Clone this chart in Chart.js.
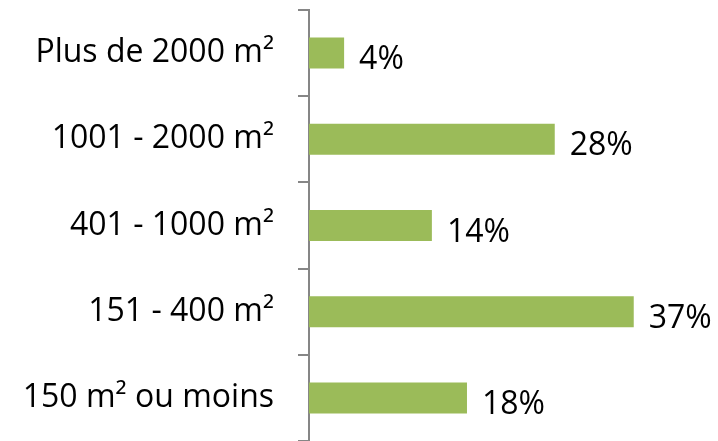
<!DOCTYPE html>
<html>
<head>
<meta charset="utf-8">
<script src="https://cdn.jsdelivr.net/npm/chart.js@4"></script>
<style>
  html, body { margin: 0; padding: 0; background: #fff; }
  #wrap { width: 718px; height: 441px; }
</style>
</head>
<body>
<div id="wrap"><canvas id="myChart"></canvas></div>
<script>
// data
var categories = ["Plus de 2000 m²", "1001 - 2000 m²", "401 - 1000 m²", "151 - 400 m²", "150 m² ou moins"]
var shares = [4, 28, 14, 37, 18]
var valueLabels = ["4%", "28%", "14%", "37%", "18%"]

var FONT = "Open Sans"
var FONT_SIZE = 32

// draws the % text to the right of each bar
var barLabels = {
    id: "barLabels",
    afterDatasetsDraw: function (chart) {
        var ctx = chart.ctx
        var meta = chart.getDatasetMeta(0)
        ctx.save()
        ctx.font = FONT_SIZE + "px " + FONT
        ctx.fillStyle = "#000"
        ctx.textBaseline = "alphabetic"
        ctx.textAlign = "left"
        meta.data.forEach(function (bar, i) {
            ctx.fillText(valueLabels[i], bar.x + 15, bar.y + 16)
        })
        ctx.restore()
    }
}

new Chart("myChart", {
    type: "bar",
    data: {
        labels: categories,
        datasets: [{
            data: shares,
            backgroundColor: "#9BBB59",
            categoryPercentage: 1,
            barPercentage: 0.36
        }]
    },
    plugins: [barLabels],
    options: {
        indexAxis: "y",
        responsive: true,
        maintainAspectRatio: false,
        animation: false,
        layout: { padding: { top: 10, bottom: 0, left: 0, right: 0 } },
        plugins: { legend: { display: false }, tooltip: { enabled: false } },
        scales: {
            x: {
                display: false,
                min: 0,
                max: 46.6
            },
            y: {
                offset: true,
                afterFit: function (scale) {
                    scale.width = 309
                    scale.paddingTop = 0
                    scale.paddingBottom = 0
                },
                border: { display: true, color: "#868686", width: 2 },
                grid: {
                    offset: true,
                    drawOnChartArea: false,
                    drawTicks: true,
                    tickLength: 11,
                    color: "#868686",
                    lineWidth: 2
                },
                ticks: {
                    padding: 24,
                    color: "#000",
                    font: { family: FONT, size: FONT_SIZE }
                }
            }
        }
    }
})
</script>
</body>
</html>
